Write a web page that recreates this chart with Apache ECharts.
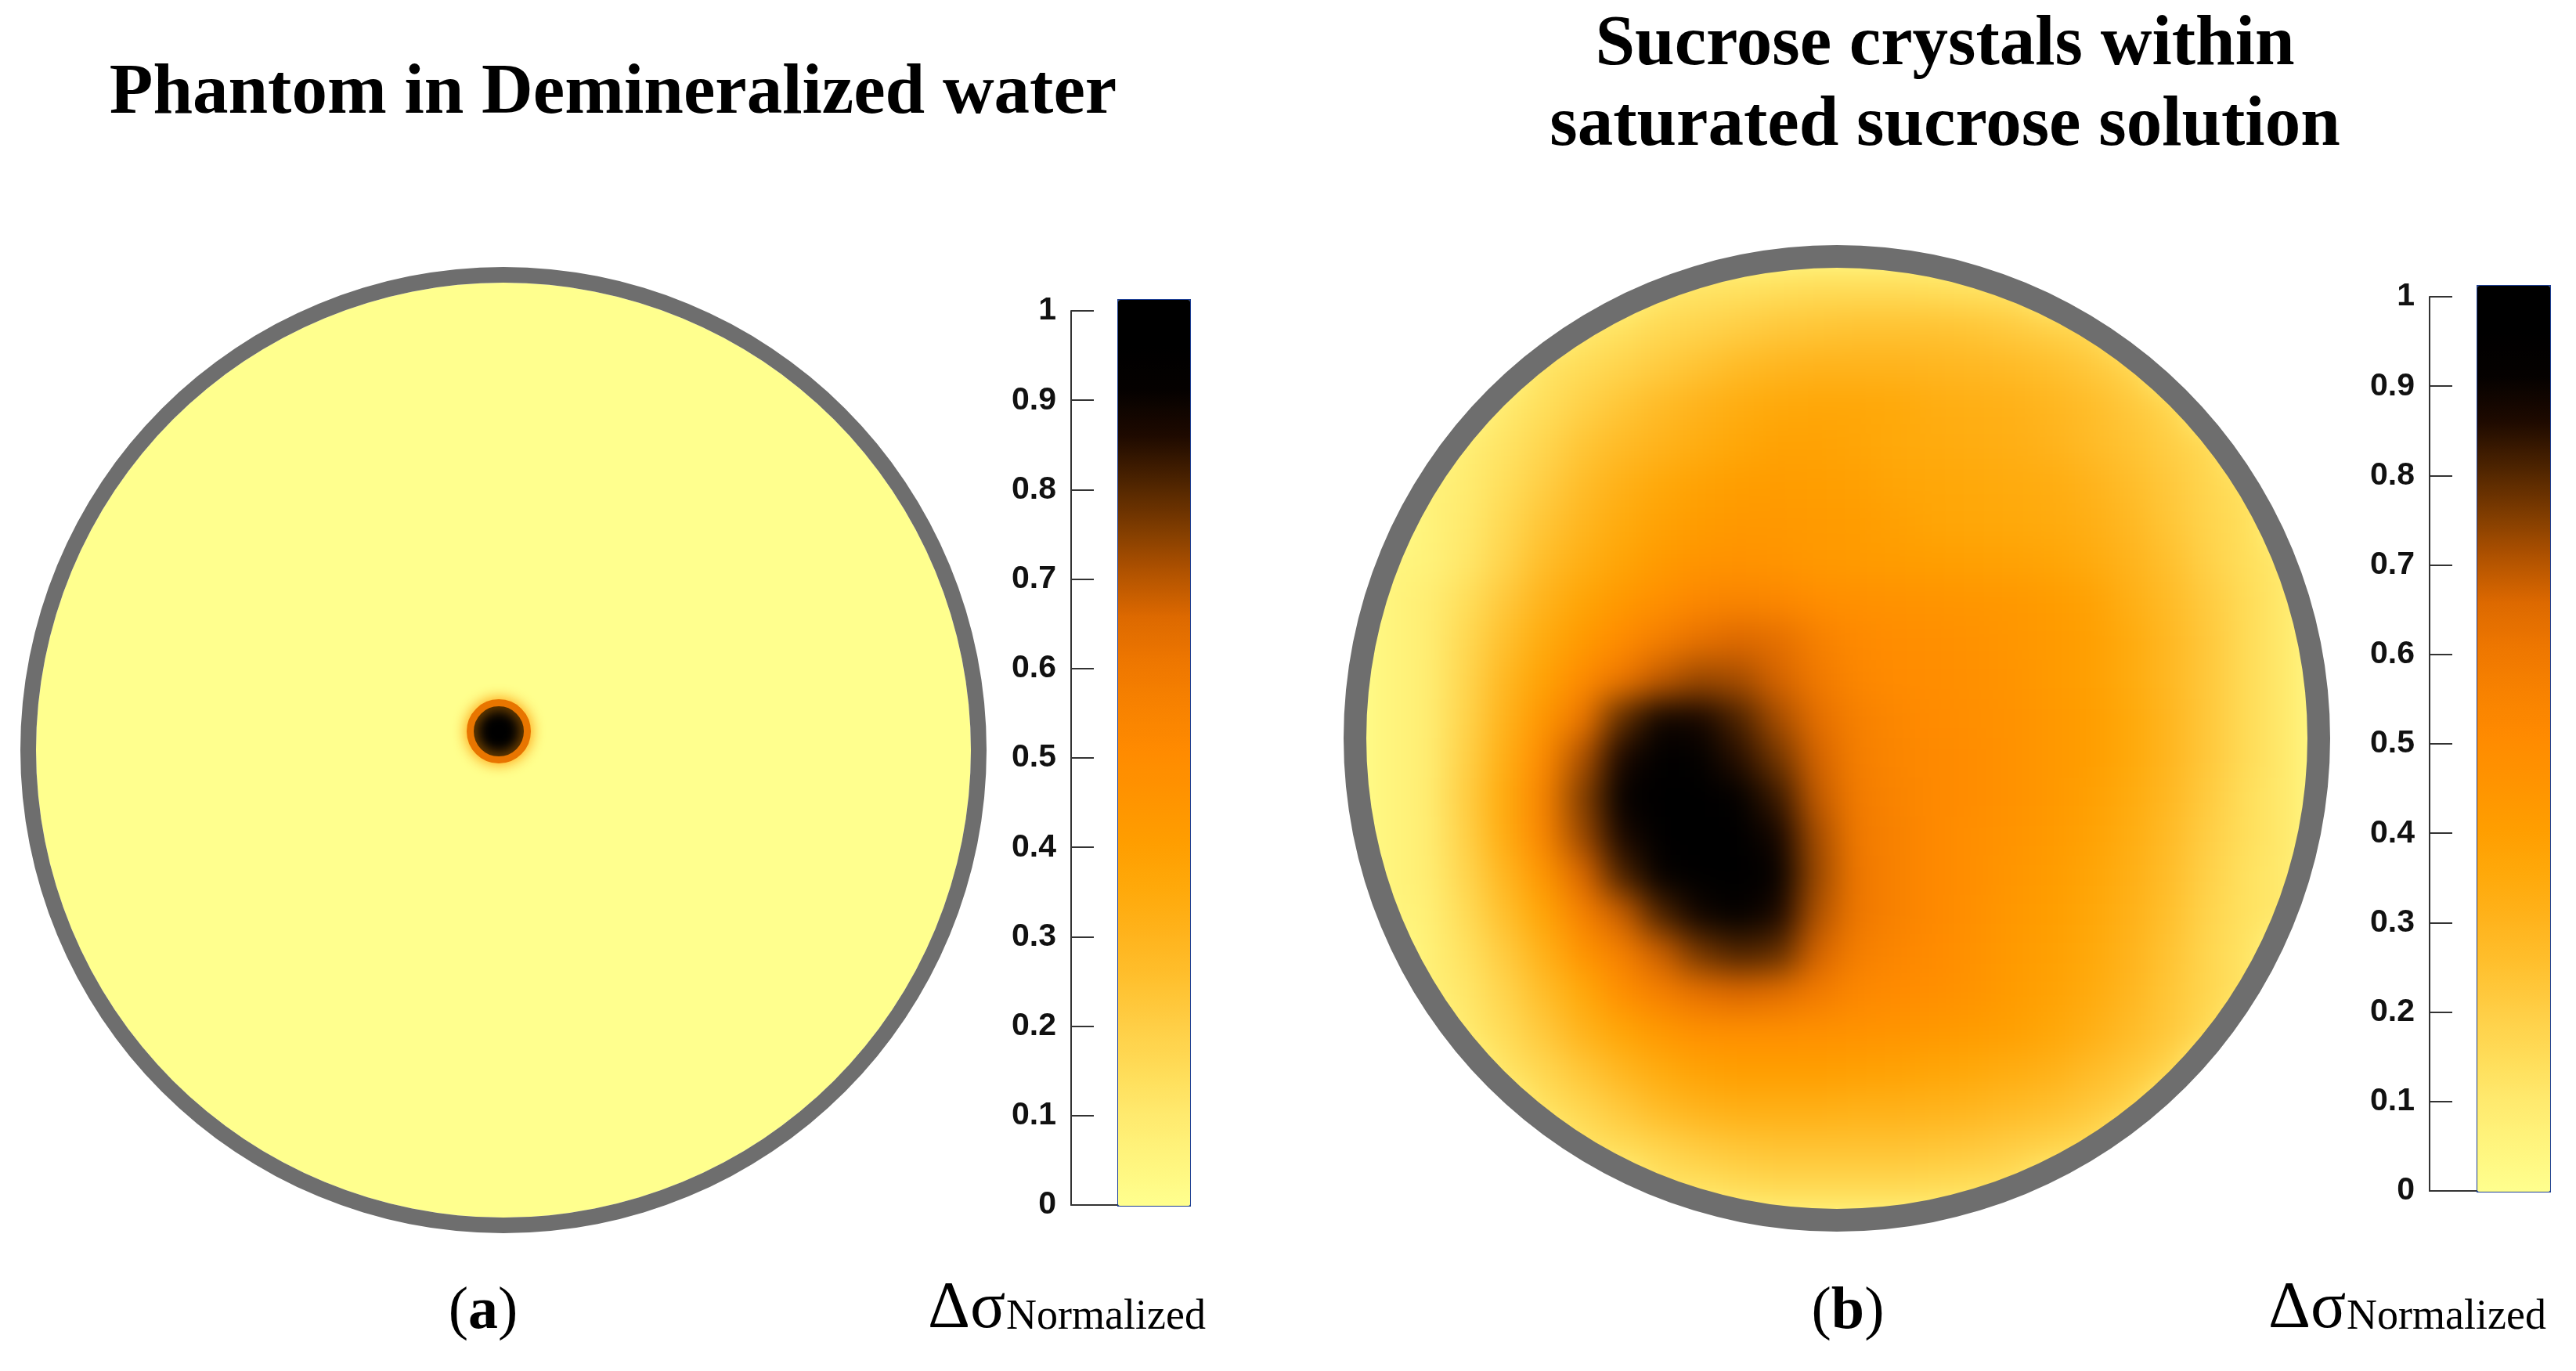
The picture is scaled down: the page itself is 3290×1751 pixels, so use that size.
<!DOCTYPE html>
<html>
<head>
<meta charset="utf-8">
<script src="https://cdn.jsdelivr.net/npm/echarts@6/dist/echarts.min.js"></script>
<style>
html, body { margin: 0; padding: 0; background: #fff; }
#wrap { position: relative; width: 3290px; height: 1751px; }
#field, #main { position: absolute; left: 0; top: 0; width: 3290px; height: 1751px; }
/* soft look of the reconstruction in panel (b), cut to the tank */
#field { background: #ffff8e; filter: blur(20px); clip-path: circle(615px at 2346px 943px); }
</style>
</head>
<body>
<div id="wrap">
    <div id="field"></div>
    <div id="main"></div>
</div>
<script>
// texts
var titleA = 'Phantom in Demineralized water';
var titleB = ['Sucrose crystals within', 'saturated sucrose solution'];
var panelLabels = ['a', 'b'];

// colorbar ticks (both panels)
var colorbarTicks = [0, 0.1, 0.2, 0.3, 0.4, 0.5, 0.6, 0.7, 0.8, 0.9, 1];

// colormap, 0 -> 1 in steps of 0.05
var colormap = [
    '#ffff8e', '#fff57e', '#ffea6e', '#ffdc58', '#ffce45', '#ffc02e', '#ffb31c',
    '#ffa90a', '#ff9e00', '#ff9400', '#ff8b00', '#f88200', '#ee7700', '#dd6900',
    '#b05200', '#7d3b00', '#4c2300', '#1e0a00', '#050100', '#000000', '#000000'
];

// panel (a): the water is 0 everywhere, one inclusion [x, y, value]
var backgroundA = 0;
var inclusionA = [[-0.01, 0.04, 1]];

// panel (b): 24 x 24 reconstruction, rows from top to bottom
var fieldB = [
    [.10,.10,.10,.10,.10,.10,.10,.10,.12,.13,.14,.15,.15,.15,.14,.13,.12,.10,.10,.10,.10,.10,.10,.10],
    [.10,.10,.10,.10,.10,.10,.13,.16,.18,.20,.22,.23,.24,.24,.24,.23,.21,.19,.16,.13,.10,.10,.10,.10],
    [.10,.10,.10,.10,.12,.15,.18,.21,.24,.27,.29,.30,.30,.30,.29,.28,.27,.25,.22,.18,.14,.12,.12,.12],
    [.08,.08,.08,.10,.14,.19,.23,.27,.30,.33,.35,.36,.36,.35,.33,.32,.31,.29,.26,.22,.18,.14,.12,.12],
    [.06,.06,.08,.12,.17,.23,.27,.30,.33,.36,.38,.38,.37,.35,.34,.33,.32,.30,.27,.24,.20,.16,.12,.10],
    [.05,.06,.09,.14,.20,.26,.31,.35,.38,.40,.41,.40,.39,.37,.36,.35,.34,.33,.30,.26,.22,.17,.13,.10],
    [.05,.06,.10,.16,.23,.29,.34,.38,.41,.43,.43,.42,.41,.39,.37,.36,.35,.34,.32,.28,.23,.18,.14,.10],
    [.05,.06,.11,.18,.26,.32,.37,.42,.45,.46,.45,.43,.42,.41,.40,.39,.38,.37,.34,.30,.25,.19,.14,.10],
    [.05,.08,.14,.22,.30,.37,.43,.48,.52,.54,.52,.49,.47,.46,.45,.44,.43,.41,.38,.32,.27,.21,.15,.10],
    [.05,.08,.16,.25,.34,.42,.50,.57,.62,.65,.63,.56,.51,.49,.48,.46,.44,.42,.39,.34,.28,.22,.15,.10],
    [.05,.08,.17,.28,.38,.50,.60,.68,.72,.71,.66,.59,.53,.50,.49,.47,.45,.42,.39,.34,.28,.22,.15,.10],
    [.05,.08,.18,.30,.44,.60,.78,.88,.87,.80,.71,.63,.56,.52,.50,.48,.46,.43,.40,.35,.29,.22,.15,.10],
    [.05,.08,.19,.32,.50,.70,.86,.94,.92,.84,.76,.66,.57,.53,.51,.49,.46,.43,.40,.35,.29,.22,.15,.10],
    [.05,.08,.20,.34,.54,.74,.90,.97,.97,.92,.82,.68,.58,.54,.51,.49,.46,.43,.39,.34,.28,.21,.14,.10],
    [.05,.08,.19,.33,.53,.72,.86,.96,.98,.95,.87,.71,.59,.55,.51,.48,.45,.42,.38,.33,.27,.20,.14,.10],
    [.05,.08,.17,.29,.44,.65,.80,.90,.96,.96,.90,.72,.60,.55,.51,.48,.44,.41,.37,.32,.26,.19,.13,.10],
    [.05,.07,.15,.25,.37,.55,.67,.80,.88,.92,.86,.70,.60,.55,.51,.47,.43,.40,.36,.31,.25,.18,.13,.10],
    [.05,.07,.13,.21,.31,.45,.56,.67,.76,.80,.78,.66,.57,.53,.50,.46,.42,.39,.35,.30,.24,.17,.12,.10],
    [.06,.07,.11,.18,.26,.35,.48,.56,.62,.65,.63,.58,.52,.50,.48,.45,.41,.38,.34,.29,.23,.17,.12,.10],
    [.08,.08,.10,.15,.22,.30,.37,.43,.47,.48,.48,.47,.46,.45,.43,.41,.39,.36,.32,.27,.22,.16,.12,.10],
    [.10,.10,.10,.12,.17,.23,.29,.34,.38,.40,.40,.40,.39,.38,.37,.35,.33,.31,.27,.23,.18,.14,.12,.12],
    [.10,.10,.10,.10,.13,.17,.22,.27,.30,.32,.32,.32,.31,.31,.30,.29,.27,.25,.22,.18,.14,.12,.12,.12],
    [.10,.10,.10,.10,.10,.12,.15,.18,.21,.23,.24,.24,.24,.24,.23,.22,.20,.18,.15,.12,.12,.12,.12,.12],
    [.10,.10,.10,.10,.10,.10,.10,.12,.13,.15,.16,.16,.16,.16,.15,.14,.13,.12,.10,.10,.10,.10,.10,.10]
];

// layout (pixels)
var cxA = 643, cyA = 958, rInA = 597, rOutA = 617;
var cxB = 2346, cyB = 943, rInB = 600, rRingB = 601, rOutB = 630;
var ringColor = '#6e6e6e';
var serif = '"Liberation Serif", "Times New Roman", serif';
var sans = '"Liberation Sans", Arial, sans-serif';

// heatmap cells of panel (b) that touch the disk
var nB = fieldB.length;
var cats = [];
for (var k = 0; k < nB; k++) cats.push(String(k));
var heatB = [];
for (var j = 0; j < nB; j++) {
    for (var i = 0; i < nB; i++) {
        var u = (i + 0.5) / nB * 2 - 1, v = (j + 0.5) / nB * 2 - 1, h = 1 / nB;
        var dx = Math.max(Math.abs(u) - h, 0), dy = Math.max(Math.abs(v) - h, 0);
        if (dx * dx + dy * dy < 1) heatB.push([i, j, fieldB[j][i]]);
    }
}

// ---- panel (b) field (own layer, blurred by css) ----
var fieldChart = echarts.init(document.getElementById('field'));
fieldChart.setOption({
    animation: false,
    grid: { left: cxB - rInB, top: cyB - rInB, width: 2 * rInB, height: 2 * rInB },
    xAxis: { type: 'category', data: cats, show: false },
    yAxis: { type: 'category', data: cats, inverse: true, show: false },
    visualMap: { show: false, type: 'continuous', min: 0, max: 1, dimension: 2, inRange: { color: colormap } },
    series: [{
        type: 'heatmap', silent: true, progressive: 0,
        itemStyle: { borderWidth: 0 },
        data: heatB
    }]
});

// ---- everything else ----
var myChart = echarts.init(document.getElementById('main'));

function ring(center, r0, r1, color, z) {
    return {
        type: 'pie', silent: true, z: z, center: center, radius: [r0, r1],
        label: { show: false }, labelLine: { show: false }, animation: false,
        itemStyle: { color: color, borderWidth: 0 },
        data: [{ value: 1 }]
    };
}

function colorbarAxes(idx) {
    return {
        x: {
            gridIndex: idx, type: 'value', min: 0, max: 1, position: 'bottom',
            axisLine: { show: true, onZero: false, lineStyle: { color: '#333', width: 2 } },
            axisTick: { show: false }, axisLabel: { show: false }, splitLine: { show: false }
        },
        y: {
            gridIndex: idx, type: 'value', min: 0, max: 1, interval: 0.1, z: 10,
            axisLine: { show: true, lineStyle: { color: '#333', width: 2 } },
            axisTick: { show: true, inside: true, length: 29, customValues: colorbarTicks,
                lineStyle: { color: '#333', width: 2 } },
            axisLabel: { customValues: colorbarTicks, margin: 19, color: '#111',
                fontSize: 41, fontWeight: 'bold', fontFamily: sans },
            splitLine: { show: false }
        }
    };
}
var cbA = colorbarAxes(1), cbB = colorbarAxes(2);

function bottomLabel(x, letter) {
    return {
        type: 'text', x: x, y: 1676,
        style: {
            text: '(' + '{b|' + letter + '})', font: '76px ' + serif, fill: '#000',
            textAlign: 'center', textVerticalAlign: 'middle',
            rich: { b: { fontFamily: serif, fontSize: 76, fontWeight: 'bold' } }
        }
    };
}
function sigmaLabel(x) {
    return [
        { type: 'text', x: x, y: 1673, style: { text: 'Δσ', font: '84px ' + serif, fill: '#000',
            textAlign: 'left', textVerticalAlign: 'middle' } },
        { type: 'text', x: x + 100, y: 1683, style: { text: 'Normalized', font: '54px ' + serif, fill: '#000',
            textAlign: 'left', textVerticalAlign: 'middle' } }
    ];
}

var option = {
    backgroundColor: 'transparent',
    animation: false,
    grid: [
        { left: cxA - rInA, top: cyA - rInA, width: 2 * rInA, height: 2 * rInA },
        { left: 1368, top: 397, width: 59, height: 1142 },
        { left: 3103, top: 379, width: 60, height: 1142 }
    ],
    xAxis: [
        { gridIndex: 0, type: 'value', min: -1, max: 1, show: false },
        cbA.x, cbB.x
    ],
    yAxis: [
        { gridIndex: 0, type: 'value', min: -1, max: 1, show: false },
        cbA.y, cbB.y
    ],
    visualMap: [
        {
            type: 'continuous', min: 0, max: 1, seriesIndex: [1], dimension: 2,
            left: 1427, top: 382, itemWidth: 92, itemHeight: 1157, padding: 0,
            calculable: false, hoverLink: false, text: null,
            borderColor: '#1d3f94', borderWidth: 2,
            inRange: { color: colormap }
        },
        {
            type: 'continuous', min: 0, max: 1, seriesIndex: [1], dimension: 2,
            left: 3163, top: 364, itemWidth: 93, itemHeight: 1157, padding: 0,
            calculable: false, hoverLink: false, text: null,
            borderColor: '#1d3f94', borderWidth: 2,
            inRange: { color: colormap }
        }
    ],
    graphic: [
        { type: 'text', x: 783, y: 120, style: { text: titleA, font: 'bold 91px ' + serif, fill: '#000',
            textAlign: 'center', textVerticalAlign: 'middle' } },
        { type: 'text', x: 2484, y: 58, style: { text: titleB[0], font: 'bold 91px ' + serif, fill: '#000',
            textAlign: 'center', textVerticalAlign: 'middle' } },
        { type: 'text', x: 2484, y: 161, style: { text: titleB[1], font: 'bold 91px ' + serif, fill: '#000',
            textAlign: 'center', textVerticalAlign: 'middle' } },
        bottomLabel(617, panelLabels[0]),
        bottomLabel(2360, panelLabels[1])
    ].concat(sigmaLabel(1185), sigmaLabel(2897)),
    series: [
        // colour of value 0 (backgroundA) filling the water
        ring([cxA, cyA], 0, rInA, colormap[backgroundA], 1),
        {
            type: 'scatter', xAxisIndex: 0, yAxisIndex: 0, z: 3, silent: true,
            symbol: 'circle', symbolSize: 73,
            itemStyle: { borderColor: '#e87500', borderWidth: 9, shadowBlur: 18,
                shadowColor: 'rgba(255,150,0,0.9)', opacity: 1 },
            data: inclusionA
        },
        ring([cxA, cyA], rInA, rOutA, ringColor, 4),
        ring([cxB, cyB], rRingB, rOutB, ringColor, 5)
    ]
};

myChart.setOption(option);
window.addEventListener('resize', function () {
    fieldChart.resize();
    myChart.resize();
});
</script>
</body>
</html>
